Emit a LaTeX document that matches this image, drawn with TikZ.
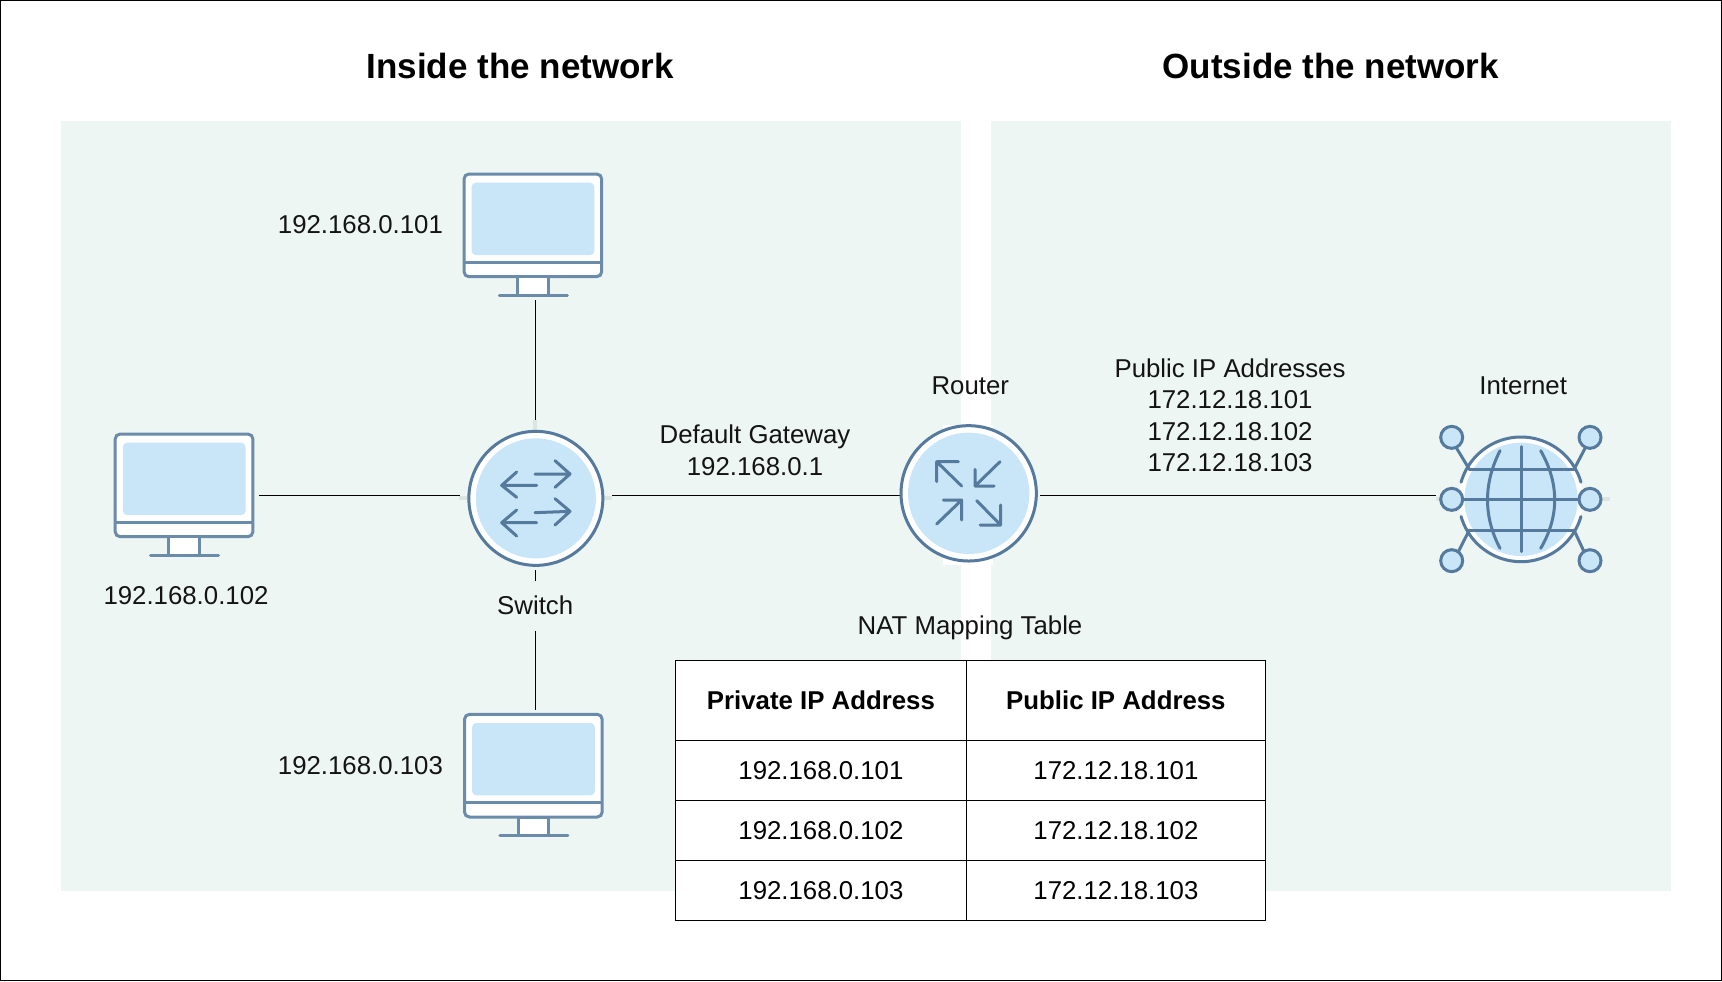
\documentclass[tikz,border=0pt]{standalone}
\usepackage{fontspec}
\setmainfont{Liberation Sans}
\definecolor{panel}{HTML}{EDF6F2}
\definecolor{screen}{HTML}{C8E6F7}
\definecolor{frameblue}{HTML}{6A8BAA}
\definecolor{icon}{HTML}{557A9D}
\definecolor{stub}{HTML}{DDE5E2}
\tikzset{
  lbl/.style={font=\fontsize{12.9}{15.75}\selectfont,align=center,inner sep=0pt,text=black!92},
  ttl/.style={font=\fontsize{17.5}{21}\selectfont\bfseries,inner sep=0pt},
  link/.style={draw=black,line width=0.55pt},
  anchorbox/.style={rectangle,inner sep=0pt,outer sep=0pt,minimum width=#1},
  cellbox/.style={draw=black,line width=0.45pt,fill=white,rectangle,inner sep=0pt,outer sep=0pt,font=\fontsize{12.9}{15.75}\selectfont},
  headbox/.style={cellbox,font=\fontsize{12.9}{15.75}\selectfont\bfseries},
  iconline/.style={draw=icon,line width=1.5pt,line cap=round,line join=round},
  monitor/.pic={
    \draw[draw=frameblue,fill=white,line width=1.5pt,rounded corners=2.5pt] (0,0) rectangle (137.7,102.7);
    \fill[screen,rounded corners=2pt] (7.7,8.7) rectangle (130.3,81);
    \draw[frameblue,line width=1.5pt] (0,88.3) -- (137.7,88.3);
    \draw[draw=frameblue,fill=white,line width=1.5pt] (53.7,102.7) rectangle (84.3,121);
    \draw[frameblue,line width=1.5pt,line cap=round] (35.3,121) -- (103.3,121);
  }
}
\begin{document}
\begin{tikzpicture}[x=0.5pt,y=-0.5pt]
\useasboundingbox (0,0) rectangle (1722,981);
\fill[white] (0,0) rectangle (1722,981);
\fill[panel] (61,120.9) rectangle (960.8,891);
\fill[panel] (991,120.9) rectangle (1671,891);
\draw[black,line width=0.6pt] (0.7,0.7) rectangle (1721.3,980.3);

\node[ttl] (titlein) at (520.3,66) {Inside the network};
\node[ttl] (titleout) at (1330.8,66) {Outside the network};

% invisible boxes: their sides are where the connectors stop
\node[anchorbox=140pt/2,minimum height=130pt/2] (mon1) at (535.7,235) {};
\node[anchorbox=152.4pt/2,minimum height=150pt/2] (switch) at (535.7,495.3) {};
\node[anchorbox=140pt/2,minimum height=130pt/2] (mon2) at (189,495.3) {};
\node[anchorbox=140pt/2,minimum height=130pt/2] (mon3) at (535.7,775) {};
\node[anchorbox=140pt/2,minimum height=130pt/2] (router) at (970,495.3) {};
\node[anchorbox=170pt/2,minimum height=130pt/2] (globe) at (1520.7,495.3) {};

\draw[link] (mon1.south) -- (switch.north);
\draw[link] (mon2.east) -- (switch.west);
\draw[link] (switch.south) -- (mon3.north);
\draw[link] (switch.east) -- (router.west);
\draw[link] (router.east) -- (globe.west);

% monitors
\pic at (464,174) {monitor};
\pic at (115.2,434) {monitor};
\pic at (464.5,714.3) {monitor};

% switch
\begin{scope}[shift={(440,410)},x=0.16667pt,y=-0.16667pt]
  \draw[stub,line width=2pt] (285,30) -- (285,60) (58,265) -- (80,265) (492,265) -- (515,265);
  \draw[draw=icon,fill=white,line width=1.5pt] (287.5,265) circle (201);
  \fill[screen] (287.5,265) circle (180);
  \draw[iconline] (285,192) -- (390,192) (345,152) -- (390,192) -- (345,232);
  \draw[iconline] (290,226) -- (185,226) (230,186) -- (185,226) -- (230,262);
  \draw[iconline] (285,308) -- (390,304) (345,266) -- (390,304) -- (345,345);
  \draw[iconline] (290,338) -- (185,338) (230,300) -- (185,338) -- (230,378);
\end{scope}

% router
\begin{scope}[shift={(880,410)},x=0.16667pt,y=-0.16667pt]
  \fill[white] (190,45) rectangle (340,465);
  \draw[draw=icon,fill=white,line width=1.5pt] (266,250) circle (203);
  \fill[screen] (266,250) circle (182);
  \draw[iconline] (245,228) -- (170,155) (170,215) -- (170,155) -- (235,155);
  \draw[iconline] (360,155) -- (285,228) (285,178) -- (285,228) -- (342,228);
  \draw[iconline] (170,342) -- (245,270) (190,270) -- (245,270) -- (245,330);
  \draw[iconline] (290,272) -- (362,345) (362,285) -- (362,345) -- (300,345);
\end{scope}

% internet globe
\begin{scope}[shift={(1420,410)},x=0.16667pt,y=-0.16667pt]
  \draw[stub,line width=2pt] (47,268) -- (62,268) (545,268) -- (570,268);
  \fill[white] (303,268) circle (186);
  \fill[screen] (303,268) circle (170);
  \draw[iconline] ([shift={(196:187)}]303,268) arc (196:344:187);
  \draw[iconline] ([shift={(16:187)}]303,268) arc (16:164:187);
  \draw[iconline] (148,178) -- (462,178) (125,268) -- (478,268) (148,360) -- (462,360) (305,110) -- (305,425);
  \draw[iconline] (240,122) .. controls (190,220) and (190,320) .. (240,415);
  \draw[iconline] (362,122) .. controls (418,220) and (418,320) .. (362,415);
  \draw[iconline] (110,115) -- (148,178) (495,115) -- (462,178) (115,425) -- (148,360) (492,425) -- (462,360);
  \foreach \cx/\cy in {95/82,510/82,95/268,510/268,95/452,510/452}
    \draw[draw=icon,fill=screen,line width=1.5pt] (\cx,\cy) circle (33);
\end{scope}

% labels
\node[lbl] (ip1) at (360.4,225) {192.168.0.101};
\node[lbl] (ip2) at (186,595.6) {192.168.0.102};
\node[lbl] (ip3) at (360.4,766) {192.168.0.103};
\node[lbl,fill=panel,minimum width=80pt/2,minimum height=50pt/2] (switchlbl) at (535.2,605.5) {Switch};
\node[lbl] (gateway) at (755,450.5) {Default Gateway\\192.168.0.1};
\node[lbl] (routerlbl) at (970.3,385.7) {Router};
\node[lbl] (publicips) at (1230,415.4) {Public IP Addresses\\172.12.18.101\\172.12.18.102\\172.12.18.103};
\node[lbl] (internet) at (1523.2,385.7) {Internet};
\node[lbl] (natlbl) at (970,627.5) {NAT Mapping Table};

% table
\node[headbox,minimum width=145.1pt,minimum height=40.1pt] (h1) at (820.9,700.5) {Private IP Address};
\node[headbox,minimum width=149.9pt,minimum height=40.1pt] (h2) at (1115.9,700.5) {Public IP Address};
\node[cellbox,minimum width=145.1pt,minimum height=29.7pt] (a1) at (820.9,770.3) {192.168.0.101};
\node[cellbox,minimum width=149.9pt,minimum height=29.7pt] (b1) at (1115.9,770.3) {172.12.18.101};
\node[cellbox,minimum width=145.1pt,minimum height=30.2pt] (a2) at (820.9,830.2) {192.168.0.102};
\node[cellbox,minimum width=149.9pt,minimum height=30.2pt] (b2) at (1115.9,830.2) {172.12.18.102};
\node[cellbox,minimum width=145.1pt,minimum height=29.7pt] (a3) at (820.9,890.3) {192.168.0.103};
\node[cellbox,minimum width=149.9pt,minimum height=29.7pt] (b3) at (1115.9,890.3) {172.12.18.103};
\end{tikzpicture}
\end{document}
